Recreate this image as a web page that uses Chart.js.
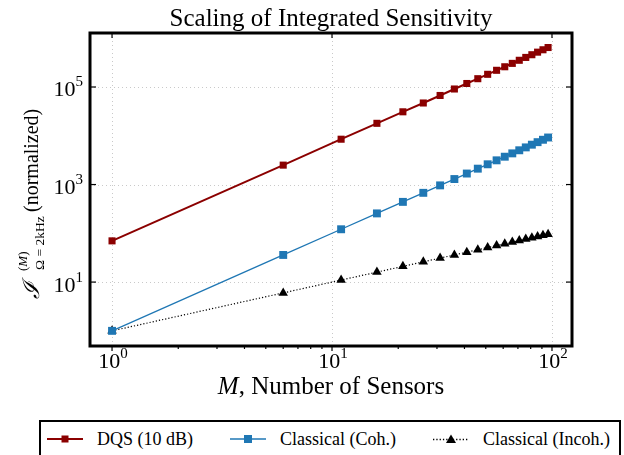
<!DOCTYPE html>
<html><head><meta charset="utf-8">
<script src="https://cdn.jsdelivr.net/npm/chart.js@4/dist/chart.umd.min.js"></script>
<style>
html,body{margin:0;padding:0;background:#fff;}
body{width:624px;height:455px;overflow:hidden;position:relative;font-family:'Liberation Serif','DejaVu Serif',serif;}
#wrap{position:absolute;left:0;top:0;width:624px;height:455px;}
#legend{position:absolute;left:39px;top:420px;width:582px;height:50px;border:2px solid #000;box-sizing:border-box;background:#fff;}
.item{position:absolute;top:0;height:34px;display:flex;align-items:center;font-size:18px;color:#000;white-space:nowrap;}
.item svg{margin-right:14px;}
</style>
</head><body>
<div id="wrap"><canvas id="c" width="624" height="455"></canvas></div>
<div id="legend">
  <div class="item" style="left:6px"><svg width="36" height="12"><line x1="0" y1="6" x2="36" y2="6" stroke="#8b0000" stroke-width="2"/><rect x="14.5" y="2.5" width="7" height="7" fill="#8b0000"/></svg><span>DQS (10 dB)</span></div>
  <div class="item" style="left:189px"><svg width="36" height="12"><line x1="0" y1="6" x2="36" y2="6" stroke="#1f77b4" stroke-width="1.3"/><rect x="14" y="2" width="8" height="8" fill="#1f77b4"/></svg><span>Classical (Coh.)</span></div>
  <div class="item" style="left:392px"><svg width="36" height="12"><line x1="0" y1="6.5" x2="36" y2="6.5" stroke="#000" stroke-width="1.3" stroke-dasharray="1.3,2"/><polygon points="18,1.5 23,10 13,10" fill="#000"/></svg><span>Classical (Incoh.)</span></div>
</div>
<script>
// ---- data ----
const sensorCounts = [1, 6, 11, 16, 21, 26, 31, 36, 41, 46, 51, 56, 61, 66, 71, 76, 81, 86, 91, 96];
const dqsValues = [70, 2500, 8500, 18000, 31000, 47000, 67000, 91000, 118000, 148000, 182000, 220000, 260000, 305000, 353000, 404000, 459000, 518000, 580000, 645000];
const cohValues = [1, 36, 121, 256, 441, 676, 961, 1296, 1681, 2116, 2601, 3136, 3721, 4356, 5041, 5776, 6561, 7396, 8281, 9216];
const incohValues = [1, 6, 11, 16, 21, 26, 31, 36, 41, 46, 51, 56, 61, 66, 71, 76, 81, 86, 91, 96];
const seriesNames = ['DQS (10 dB)', 'Classical (Coh.)', 'Classical (Incoh.)'];
const xMajorTicks = [1, 10, 100];
const xTickExponents = ['0', '1', '2'];
const xMinorTicks = [2, 3, 4, 5, 6, 7, 8, 9, 20, 30, 40, 50, 60, 70, 80, 90];
const yMajorTicks = [10, 1000, 100000];
const yTickExponents = ['1', '3', '5'];
const tickBase = '10';
const titleText = 'Scaling of Integrated Sensitivity';
const xTitleVar = 'M';
const xTitleRest = ', Number of Sensors';

const SERIF = "'Liberation Serif','DejaVu Serif',serif";
const pts = vals => sensorCounts.map((m, i) => ({x: m, y: vals[i]}));

const framePlugin = {
  id: 'frame',
  beforeDatasetsDraw(chart) {
    const {ctx, chartArea: a, scales: {x, y}} = chart;
    ctx.save();
    ctx.strokeStyle = '#c9c9c9'; ctx.lineWidth = 1; ctx.setLineDash([1, 3]);
    xMajorTicks.forEach(v => { const p = Math.round(x.getPixelForValue(v)) + 0.5; ctx.beginPath(); ctx.moveTo(p, a.top); ctx.lineTo(p, a.bottom); ctx.stroke(); });
    yMajorTicks.forEach(v => { const p = Math.round(y.getPixelForValue(v)) + 0.5; ctx.beginPath(); ctx.moveTo(a.left, p); ctx.lineTo(a.right, p); ctx.stroke(); });
    ctx.restore();
  },
  afterDraw(chart) {
    const {ctx, chartArea: a, scales: {x, y}} = chart;
    ctx.save();
    ctx.strokeStyle = '#000'; ctx.lineWidth = 1.2;
    const seg = (x1, y1, x2, y2) => { ctx.beginPath(); ctx.moveTo(x1, y1); ctx.lineTo(x2, y2); ctx.stroke(); };
    xMajorTicks.forEach(v => { const p = x.getPixelForValue(v); seg(p, a.bottom, p, a.bottom + 5); seg(p, a.top, p, a.top + 5); });
    xMinorTicks.forEach(v => { const p = x.getPixelForValue(v); seg(p, a.bottom, p, a.bottom + 3); });
    yMajorTicks.forEach(v => { const p = y.getPixelForValue(v); seg(a.left, p, a.left + 6, p); seg(a.right, p, a.right - 6, p); });
    ctx.lineWidth = 3;
    ctx.strokeRect(a.left, a.top, a.right - a.left, a.bottom - a.top);

    ctx.fillStyle = '#000';
    ctx.textBaseline = 'alphabetic';
    ctx.textAlign = 'left';
    const fBase = '22px ' + SERIF, fExp = '15px ' + SERIF;
    // x tick labels
    xMajorTicks.forEach((v, i) => {
      const p = x.getPixelForValue(v);
      ctx.font = fBase; const wb = ctx.measureText(tickBase).width;
      ctx.font = fExp; const we = ctx.measureText(xTickExponents[i]).width;
      const x0 = p - (wb + we) / 2 + 1;
      ctx.font = fBase; ctx.fillText(tickBase, x0, a.bottom + 22);
      ctx.font = fExp; ctx.fillText(xTickExponents[i], x0 + wb, a.bottom + 12);
    });
    // y tick labels
    yMajorTicks.forEach((v, i) => {
      const p = y.getPixelForValue(v);
      ctx.font = fBase; const wb = ctx.measureText(tickBase).width;
      ctx.font = fExp; const we = ctx.measureText(yTickExponents[i]).width;
      const x0 = a.left - 7 - we - wb;
      ctx.font = fBase; ctx.fillText(tickBase, x0, p + 9.5);
      ctx.font = fExp; ctx.fillText(yTickExponents[i], x0 + wb, p - 0.5);
    });

    const cx = (a.left + a.right) / 2;
    // title
    ctx.font = '25px ' + SERIF; ctx.textAlign = 'center';
    ctx.fillText(titleText, cx, 26);
    // x-axis title
    ctx.textAlign = 'left';
    ctx.font = 'italic 25px ' + SERIF; const wM = ctx.measureText(xTitleVar).width;
    ctx.font = '25px ' + SERIF; const wR = ctx.measureText(xTitleRest).width;
    const xs0 = cx - (wM + wR) / 2;
    ctx.font = 'italic 25px ' + SERIF; ctx.fillText(xTitleVar, xs0, 394);
    ctx.font = '25px ' + SERIF; ctx.fillText(xTitleRest, xs0 + wM, 394);

    // y-axis title (math label), rotated
    ctx.translate(38, 0);
    ctx.rotate(-Math.PI / 2);
    const fMain = "italic 23px " + SERIF, fSmall = "13px " + SERIF, fSmallIt = "italic 13px " + SERIF, fText = "20px " + SERIF;
    ctx.font = fMain; ctx.fillText('ℐ', -299, 1);
    const us = -271;
    ctx.font = fSmall; ctx.fillText('(', us, -11);
    const w1 = ctx.measureText('(').width;
    ctx.font = fSmallIt; ctx.fillText('M', us + w1, -11);
    const w2 = ctx.measureText('M').width;
    ctx.font = fSmall; ctx.fillText(')', us + w1 + w2, -11);
    ctx.font = "13.5px " + SERIF;
    ctx.fillText('Ω = 2kHz', us + 1, 6);
    ctx.font = fText; ctx.fillText('(normalized)', -212, 0);
    ctx.restore();
  }
};

new Chart(document.getElementById('c'), {
  type: 'line',
  data: {
    datasets: [
      {label: seriesNames[0], data: pts(dqsValues), borderColor: '#8b0000', backgroundColor: '#8b0000', borderWidth: 2, pointStyle: 'rect', pointRadius: 5, pointHoverRadius: 5, pointBorderWidth: 0},
      {label: seriesNames[1], data: pts(cohValues), borderColor: '#1f77b4', backgroundColor: '#1f77b4', borderWidth: 1.3, pointStyle: 'rect', pointRadius: 5.6, pointHoverRadius: 5.6, pointBorderWidth: 0},
      {label: seriesNames[2], data: pts(incohValues), borderColor: '#000', backgroundColor: '#000', borderWidth: 1.2, borderDash: [1.2, 2], pointStyle: 'triangle', pointRadius: 5.5, pointHoverRadius: 5.5, pointBorderWidth: 0}
    ]
  },
  options: {
    responsive: false, animation: false, devicePixelRatio: 1,
    layout: {padding: {left: 0, right: 52, top: 33, bottom: 55}},
    plugins: {
      legend: {display: false}, tooltip: {enabled: false}, title: {display: false}
    },
    scales: {
      x: {
        type: 'logarithmic', min: 0.794, max: 123.3,
        afterBuildTicks: s => { s.ticks = xMajorTicks.map(v => ({value: v})); },
        afterFit: s => { s.height = 54; },
        ticks: {display: false},
        grid: {display: false},
        border: {display: false},
        title: {display: false}
      },
      y: {
        type: 'logarithmic', min: 0.489, max: 1.28e6,
        afterBuildTicks: s => { s.ticks = yMajorTicks.map(v => ({value: v})); },
        afterFit: s => { s.width = 90; },
        ticks: {display: false},
        grid: {display: false},
        border: {display: false}
      }
    }
  },
  plugins: [framePlugin]
});
</script>
</body></html>
